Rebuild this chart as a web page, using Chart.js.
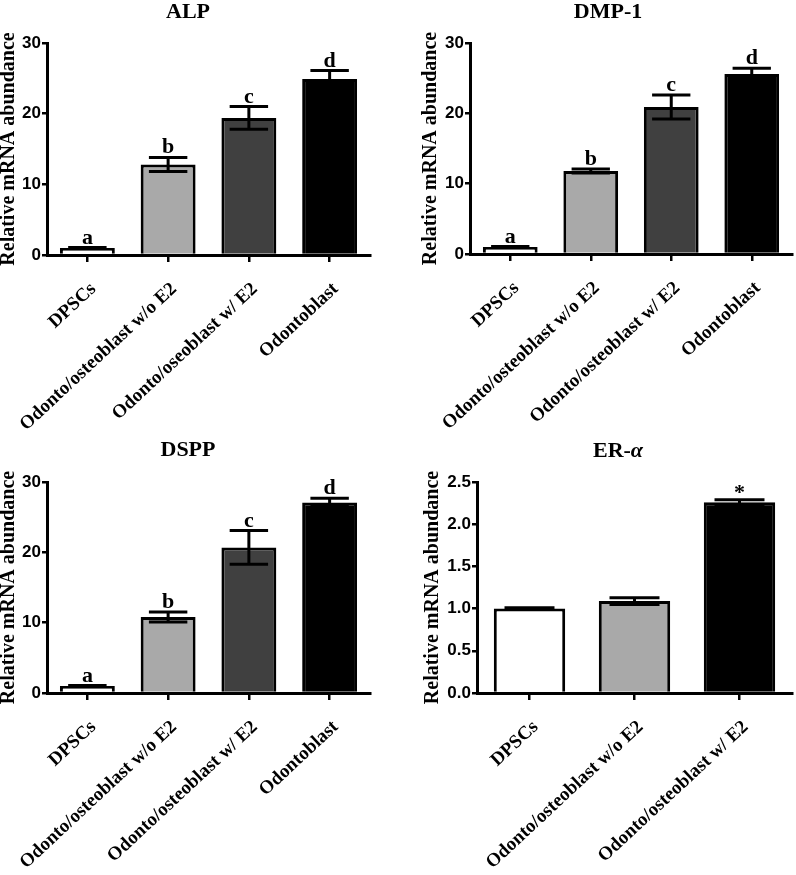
<!DOCTYPE html>
<html>
<head>
<meta charset="utf-8">
<script src="https://cdn.jsdelivr.net/npm/chart.js@4.4.1/dist/chart.umd.min.js"></script>
<style>
  body { margin: 0; background: #fff; width: 796px; height: 875px; position: relative; overflow: hidden; }
  canvas { position: absolute; }
</style>
</head>
<body>
<canvas id="alp"  width="398" height="440" style="left:0;top:0"></canvas>
<canvas id="dmp"  width="398" height="440" style="left:398px;top:0"></canvas>
<canvas id="dspp" width="398" height="455" style="left:0;top:420px"></canvas>
<canvas id="era"  width="398" height="455" style="left:398px;top:420px"></canvas>
<script>
// ---- data ----
const groupLabels    = ['DPSCs', 'Odonto/osteoblast w/o E2', 'Odonto/osteoblast w/ E2', 'Odontoblast'];
const alpGroupLabels = ['DPSCs', 'Odonto/osteoblast w/o E2', 'Odonto/oseoblast w/ E2', 'Odontoblast'];
const eraGroupLabels = ['DPSCs', 'Odonto/osteoblast w/o E2', 'Odonto/osteoblast w/ E2'];

const alpMeans  = [1.0, 12.8, 19.4, 24.9];
const alpErrors = [0.05, 1.0, 1.6, 1.2];
const dmpMeans  = [1.0, 11.8, 20.9, 25.6];
const dmpErrors = [0.05, 0.3, 1.7, 0.8];
const dsppMeans  = [1.0, 10.8, 20.7, 27.1];
const dsppErrors = [0.05, 0.7, 2.4, 0.6];
const eraMeans  = [1.0, 1.09, 2.26];
const eraErrors = [0.01, 0.04, 0.03];

const letterMarks = ['a', 'b', 'c', 'd'];
const eraMarks    = ['', '', '*'];

const barColors4 = ['#ffffff', '#a9a9a9', '#404040', '#000000'];
const barColors3 = ['#ffffff', '#a9a9a9', '#000000'];

const SERIF = '"Liberation Serif", "Times New Roman", serif';
const SANS  = '"Liberation Sans", Arial, sans-serif';

function makePanel(id, p) {
  const canvas = document.getElementById(id);

  // error bars, significance letters and the panel title
  const overlay = {
    id: 'overlay_' + id,
    afterDatasetsDraw(chart) {
      const ctx = chart.ctx;
      const y = chart.scales.y;
      const bars = chart.getDatasetMeta(0).data;
      ctx.save();
      ctx.strokeStyle = '#000';
      ctx.fillStyle = '#000';
      ctx.lineWidth = 3;
      bars.forEach((bar, i) => {
        const v = p.means[i], e = p.errors[i];
        const yTop = y.getPixelForValue(v + e);
        const yBot = y.getPixelForValue(v - e);
        const half = bar.width * 0.35;
        ctx.beginPath();
        ctx.moveTo(bar.x, yBot); ctx.lineTo(bar.x, yTop);
        ctx.moveTo(bar.x - half, yTop); ctx.lineTo(bar.x + half, yTop);
        ctx.moveTo(bar.x - half, yBot); ctx.lineTo(bar.x + half, yBot);
        ctx.stroke();

        const m = p.marks[i];
        if (m) {
          ctx.font = 'bold 22px ' + SERIF;
          ctx.textAlign = 'center';
          ctx.textBaseline = 'alphabetic';
          ctx.fillText(m, bar.x, m === '*' ? yTop - 1 : yTop - 4);
        }
      });
      ctx.restore();
    },
    afterDraw(chart) {
      const ctx = chart.ctx;
      ctx.save();
      ctx.fillStyle = '#000';
      ctx.textBaseline = 'middle';
      ctx.textAlign = 'left';
      const fonts = p.title.map(t => (t.italic ? 'italic ' : '') + 'bold 22px ' + SERIF);
      let total = 0;
      p.title.forEach((t, k) => { ctx.font = fonts[k]; total += ctx.measureText(t.text).width; });
      let x = p.titleX - total / 2;
      p.title.forEach((t, k) => {
        ctx.font = fonts[k];
        ctx.fillText(t.text, x, p.titleY);
        x += ctx.measureText(t.text).width;
      });
      ctx.restore();
    }
  };

  return new Chart(canvas, {
    type: 'bar',
    data: {
      labels: p.labels,
      datasets: [{
        data: p.means,
        backgroundColor: p.colors,
        borderColor: '#000',
        borderWidth: 3,
        borderSkipped: 'start',
        barPercentage: 0.68,
        categoryPercentage: 1,
      }]
    },
    options: {
      responsive: false,
      animation: false,
      layout: { padding: { top: p.padTop, right: p.padRight, left: 0, bottom: 0 } },
      plugins: {
        legend: { display: false },
        tooltip: { enabled: false },
        title: { display: false }
      },
      scales: {
        x: {
          afterFit: s => { s.height = p.xHeight; },
          border: { display: true, color: '#000', width: 3 },
          grid: { offset: false, drawOnChartArea: false, tickLength: 7, color: '#000', lineWidth: 2.5 },
          ticks: {
            autoSkip: false, maxRotation: 43, minRotation: 43, padding: 16, labelOffset: 6,
            color: '#000', font: { family: SERIF, weight: 'bold', size: 19 }
          }
        },
        y: {
          min: 0, max: p.yMax,
          afterFit: s => { s.width = p.yWidth; },
          border: { display: true, color: '#000', width: 3 },
          grid: { drawOnChartArea: false, tickLength: 5, color: '#000', lineWidth: 2.5 },
          ticks: {
            stepSize: p.yStep, padding: 1, color: '#000',
            font: { family: SANS, weight: 'bold', size: 17 },
            callback: v => v.toFixed(p.decimals)
          },
          title: {
            display: true, text: 'Relative mRNA abundance', color: '#000',
            font: { family: SERIF, weight: 'bold', size: 20, lineHeight: 0.9 },
            padding: { top: p.yTitlePad, bottom: 0 }
          }
        }
      }
    },
    plugins: [overlay]
  });
}

makePanel('alp', {
  labels: alpGroupLabels, means: alpMeans, errors: alpErrors, marks: letterMarks, colors: barColors4,
  yMax: 30, yStep: 10, decimals: 0,
  title: [{ text: 'ALP' }], titleX: 188, titleY: 12,
  padTop: 43, padRight: 28, yWidth: 47, yTitlePad: 0, xHeight: 185
});
makePanel('dmp', {
  labels: groupLabels, means: dmpMeans, errors: dmpErrors, marks: letterMarks, colors: barColors4,
  yMax: 30, yStep: 10, decimals: 0,
  title: [{ text: 'DMP-1' }], titleX: 210, titleY: 12,
  padTop: 43, padRight: 4, yWidth: 72, yTitlePad: 24, xHeight: 186
});
makePanel('dspp', {
  labels: groupLabels, means: dsppMeans, errors: dsppErrors, marks: letterMarks, colors: barColors4,
  yMax: 30, yStep: 10, decimals: 0,
  title: [{ text: 'DSPP' }], titleX: 188, titleY: 30,
  padTop: 62, padRight: 28, yWidth: 47, yTitlePad: 0, xHeight: 182
});
makePanel('era', {
  labels: eraGroupLabels, means: eraMeans, errors: eraErrors, marks: eraMarks, colors: barColors3,
  yMax: 2.5, yStep: 0.5, decimals: 1,
  title: [{ text: 'ER-' }, { text: 'α', italic: true }], titleX: 220, titleY: 31,
  padTop: 62, padRight: 4, yWidth: 79, yTitlePad: 26, xHeight: 182
});
</script>
</body>
</html>
